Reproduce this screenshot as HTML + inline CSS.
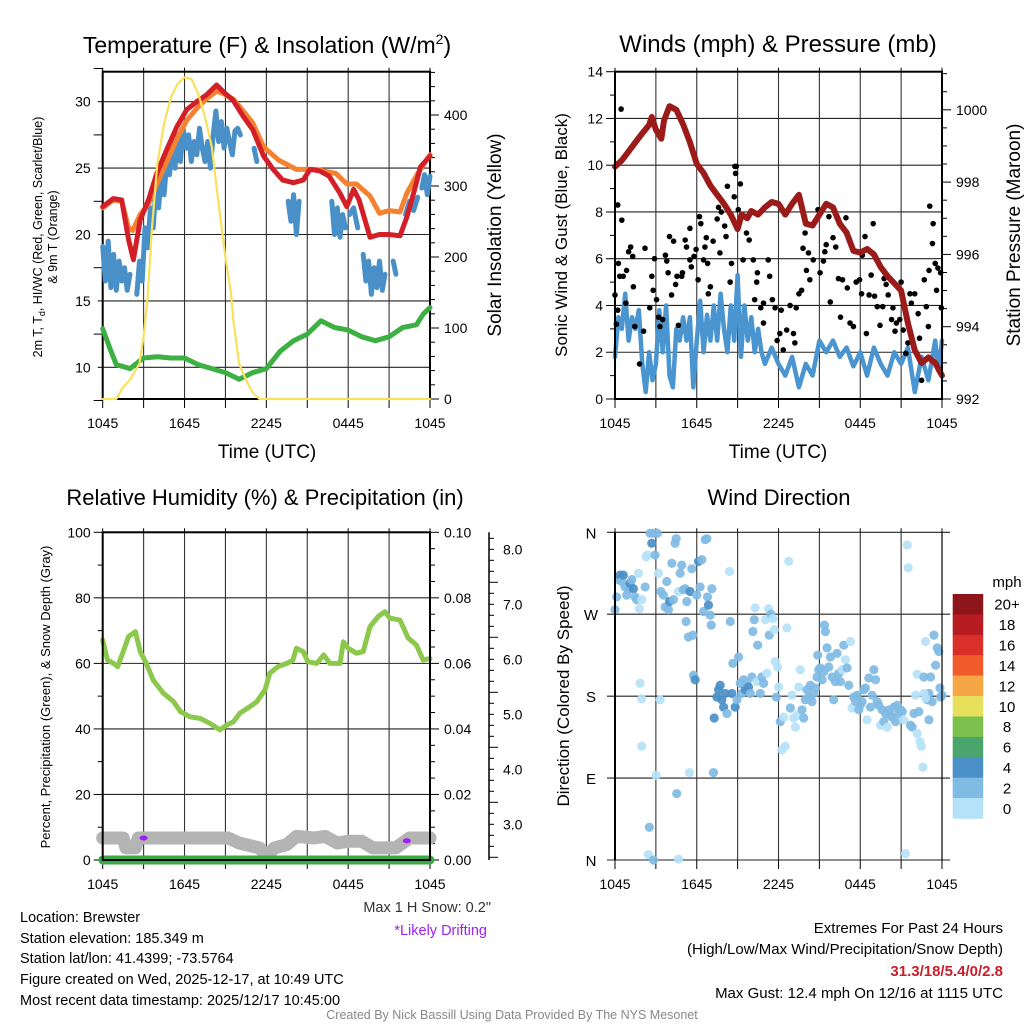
<!DOCTYPE html>
<html><head><meta charset="utf-8"><style>
html,body{margin:0;padding:0;background:#fff;}
svg{display:block;font-family:"Liberation Sans",Arial,sans-serif;}
</style></head><body>
<svg id="fig" width="1024" height="1024" viewBox="0 0 1024 1024" xmlns="http://www.w3.org/2000/svg">
<rect x="0" y="0" width="1024" height="1024" fill="#fff"/>
<text x="267" y="53" font-size="23" text-anchor="middle">Temperature (F) &amp; Insolation (W/m<tspan font-size="14" dy="-9">2</tspan><tspan dy="9">)</tspan></text>
<text x="778" y="52" font-size="24" text-anchor="middle">Winds (mph) &amp; Pressure (mb)</text>
<text x="265" y="505" font-size="22" text-anchor="middle">Relative Humidity (%) &amp; Precipitation (in)</text>
<text x="779" y="505" font-size="22" text-anchor="middle">Wind Direction</text>
<text x="267" y="458" font-size="19" text-anchor="middle">Time (UTC)</text>
<text x="778" y="458" font-size="19" text-anchor="middle">Time (UTC)</text>
<text transform="translate(42,237) rotate(-90)" font-size="12.5" text-anchor="middle">2m T, T<tspan font-size="9" dy="3">d</tspan><tspan dy="-3">, HI/WC (Red, Green, Scarlet/Blue)</tspan></text>
<text transform="translate(57,237) rotate(-90)" font-size="12.5" text-anchor="middle">&amp; 9m T (Orange)</text>
<text transform="translate(501,235) rotate(-90)" font-size="19" text-anchor="middle">Solar Insolation (Yellow)</text>
<text transform="translate(567,235) rotate(-90)" font-size="17" text-anchor="middle">Sonic Wind &amp; Gust (Blue, Black)</text>
<text transform="translate(1020,235) rotate(-90)" font-size="19" text-anchor="middle">Station Pressure (Maroon)</text>
<text transform="translate(50,697) rotate(-90)" font-size="13" text-anchor="middle">Percent, Precipitation (Green), &amp; Snow Depth (Gray)</text>
<text transform="translate(569,696) rotate(-90)" font-size="17" text-anchor="middle">Direction (Colored By Speed)</text>
<g font-size="14.5">
<text x="20" y="922">Location: Brewster</text>
<text x="20" y="943">Station elevation: 185.349 m</text>
<text x="20" y="963">Station lat/lon: 41.4399; -73.5764</text>
<text x="20" y="984">Figure created on Wed, 2025-12-17, at 10:49 UTC</text>
<text x="20" y="1005">Most recent data timestamp: 2025/12/17 10:45:00</text>
</g>
<text x="491" y="912" font-size="14.5" fill="#333" text-anchor="end">Max 1 H Snow: 0.2"</text>
<text x="487" y="935" font-size="14.5" fill="#a020f0" text-anchor="end">*Likely Drifting</text>
<g font-size="15" text-anchor="end">
<text x="1003" y="933">Extremes For Past 24 Hours</text>
<text x="1003" y="954">(High/Low/Max Wind/Precipitation/Snow Depth)</text>
<text x="1003" y="976" fill="#c8202a" font-weight="bold">31.3/18/5.4/0/2.8</text>
<text x="1003" y="998">Max Gust: 12.4 mph On 12/16 at 1115 UTC</text>
</g>
<text x="512" y="1019" font-size="12.5" fill="#888" text-anchor="middle">Created By Nick Bassill Using Data Provided By The NYS Mesonet</text>
<g id="layer"></g>
</svg>
<script>
// ---------- data ----------
const xTickLabels = ['1045','1645','2245','0445','1045'];
const tempTicks = [10,15,20,25,30];
const solarTicks = [0,100,200,300,400];
const speedTicks = [0,2,4,6,8,10,12,14];
const presTicks = [992,994,996,998,1000];
const rhTicks = [0,20,40,60,80,100];
const precipTicks = ['0.00','0.02','0.04','0.06','0.08','0.10'];
const snowTicks = ['3.0','4.0','5.0','6.0','7.0','8.0'];
const dirLabels = ['N','E','S','W','N'];
const cbarLabels = ['20+','18','16','14','12','10','8','6','4','2','0'];

const redTimes = [0,0.78,1.39,1.9,2.25,2.75,3.36,3.97,4.7,5.43,6.16,6.9,7.6,8.35,8.84,9.57,10.3,11.0,11.8,12.5,13.2,13.98,14.7,15.2,15.9,16.6,17.4,17.9,18.4,18.8,19.6,20.3,21.0,21.8,22.3,22.8,23.3,24];
const redVals = [22.1,22.7,22.6,19.6,18.1,21.1,22.6,24.6,26.4,28.1,29.4,30.0,30.5,31.26,30.75,30.1,28.9,27.9,25.9,24.9,24.1,23.9,24.1,24.9,24.8,24.4,23.1,22.1,23.4,22.6,19.8,20.0,20.0,19.9,21.3,23.1,25.1,25.9];
const orangeTimes = [0,0.78,1.39,1.9,2.2,2.75,3.36,3.97,4.7,5.43,6.16,6.9,7.6,8.35,8.84,9.57,10.3,11.0,11.8,12.9,14.2,15.7,17.1,17.9,18.6,19.6,20.3,21.0,21.8,22.3,23.1,24];
const orangeVals = [22.0,22.6,22.5,20.5,20.3,21.5,22.3,23.8,25.5,27.2,28.6,29.5,30.2,30.8,30.6,30.2,29.3,28.4,26.6,25.6,24.9,24.9,24.6,23.8,23.8,22.9,21.6,21.8,21.7,23.1,24.6,26.0];
const blueTimes = [0,0.2,0.4,0.6,0.8,1.0,1.2,1.4,1.6,1.8,2.0,2.2,2.5,2.7,2.9,3.1,3.3,3.5,3.7,3.9,4.1,4.3,4.5,4.7,4.9,5.1,5.3,5.5,5.7,5.9,6.1,6.3,6.5,6.7,6.9,7.1,7.3,7.5,7.7,7.9,8.1,8.3,8.5,8.7,8.9,9.1,9.3,9.5,9.7,9.9,10.1,10.6,11.1,11.3,12.0,13.6,13.8,14.0,14.2,14.4,15.0,15.8,16.3,16.8,17.0,17.2,17.4,17.6,17.8,17.95,18.1,18.4,18.7,18.9,19.1,19.3,19.5,19.7,19.9,20.1,20.3,20.5,20.7,21.0,21.3,21.5,21.9,22.2,22.5,22.8,23.1,23.25,23.4,23.6,23.8,24];
const blueVals = [19.1,16.5,19.5,16,18.5,15.8,18,16.5,17.5,15.8,17,null,15.5,18,16.5,20.5,19,22,20.5,23.5,22,24.5,23,25.5,24.5,26.5,25,27.5,25.5,28,26.5,27.5,25.5,27,26,28,26.5,25.5,27,25,27.5,29.3,27,28.5,26.5,28,27,26,27.8,28,27.5,null,26.5,25.5,null,22.5,21,23,20,22.5,null,22.9,null,22.5,20,22,19.8,21.5,20.5,null,21.5,22,20.5,null,18.5,16.5,18,15.5,17.5,16,18,15.8,17,null,18,17,null,21.5,22.5,21.8,22.8,null,23.5,24.5,23,24.4];
const greenTimes = [0,0.5,1,2,3,4,5,6,7,8,9,10,11,12,13,14,15,16,17,18,19,20,21,22,23,23.5,24];
const greenVals = [12.9,11.5,10.2,9.9,10.7,10.8,10.7,10.7,10.2,9.9,9.6,9.1,9.6,9.9,11.2,12.0,12.5,13.5,13.0,12.8,12.3,12.0,12.3,13.0,13.2,14.0,14.5];
const solarTimes = [0,1,1.5,2,2.7,3,3.3,3.6,4,4.5,5,5.5,6,6.5,7,7.5,8,8.5,9,9.4,9.6,10,10.5,11,11.5,24];
const solarVals = [0,0,17,27,50,88,144,238,331,388,425,444,453,451,430,397,355,275,200,150,108,50,27,9,0,0];

const presTimes = [0,0.5,1,1.5,2,2.5,2.7,3,3.4,3.6,4,4.5,5,5.5,6,6.5,7,7.5,8,8.5,9,9.3,9.7,10,10.5,11,11.5,12,12.5,13,13.5,14,14.5,15,15.5,16,16.5,17,17.5,18,18.5,19,19.5,20,20.5,21,21.5,22,22.5,23,23.5,24];
const presVals = [998.43,998.6,998.85,999.1,999.35,999.58,999.8,999.45,999.2,999.7,1000.1,1000.0,999.6,999.1,998.5,998.25,997.9,997.65,997.4,997.1,996.7,997.1,997.0,997.2,997.1,997.3,997.45,997.4,997.1,997.4,997.65,996.85,996.8,997.1,997.4,997.3,996.85,996.6,996.1,996.05,996.15,996.0,995.65,995.4,995.2,995.0,994.1,993.35,993.0,993.15,993.0,992.65];
const windTimes = [0,0.25,0.5,0.75,1,1.25,1.5,1.75,2,2.25,2.5,2.75,3,3.25,3.5,3.75,4,4.25,4.5,4.75,5,5.25,5.5,5.75,6,6.25,6.5,6.75,7,7.25,7.5,7.75,8,8.25,8.5,8.75,9,9.25,9.5,9.75,10,10.25,10.5,10.75,11,11.5,12,12.5,13,13.5,14,14.5,15,15.5,16,16.5,17,17.5,18,18.5,19,19.5,20,20.5,21,21.5,22,22.5,23,23.5,23.75,24];
const windVals = [1.8,3.5,3.0,4.5,2.5,3.5,3.0,3.8,1.5,0.3,2.0,0.8,1.5,3.8,2.0,4.0,1.0,0.5,3.0,2.5,3.5,2.5,3.5,0.5,2.5,4.2,2.0,3.6,2.5,4.0,2.5,4.5,3.0,2.0,4.0,2.5,5.3,1.8,4.0,2.5,3.5,2.0,3.0,2.0,1.5,2.2,1.5,1.0,1.8,0.5,1.5,1.0,2.5,2.0,2.5,1.8,2.2,1.4,2.0,1.0,2.2,1.5,1.0,2.0,1.5,2.2,0.3,1.8,0.8,2.5,1.2,2.5];
const gustTimes = [0,0.1,0.2,0.25,0.2,0.45,0.5,0.35,0.6,0.8,0.85,1.0,1.15,1.3,1.35,1.45,1.8,2.1,2.2,2.55,2.7,2.8,2.9,3.05,3.2,3.3,3.5,3.7,3.8,3.9,4.0,4.15,4.3,4.45,4.55,4.65,4.9,4.95,5.15,5.25,5.5,5.5,5.6,5.8,5.95,6.1,6.2,6.3,6.5,6.6,6.7,6.8,6.85,7.0,7.2,7.5,7.6,7.7,7.8,8.05,8.15,8.25,8.45,8.55,8.75,8.8,8.9,8.85,9.2,9.05,9.4,9.65,9.85,10.15,10.25,10.4,10.45,10.7,10.9,10.9,11.25,11.35,11.55,11.75,11.9,12.1,12.2,12.35,12.6,12.85,13.1,13.2,13.3,13.5,13.7,13.8,13.95,14.05,14.2,14.3,14.55,14.9,15.05,15.3,15.4,15.5,15.7,15.8,16.0,16.2,16.4,16.55,16.7,16.95,17.05,17.25,17.5,17.7,17.95,18.1,18.15,18.35,18.45,18.65,18.8,18.95,19.05,19.25,19.45,19.65,19.75,19.9,20.05,20.3,20.4,20.55,20.65,20.9,21.0,21.15,21.35,21.5,21.65,21.75,22.0,22.25,22.35,22.5,22.7,22.85,23.0,23.05,23.1,23.3,23.35,23.5,23.6,23.7,23.9,23.95];
const gustVals = [4.45,3.2,3.8,5.8,8.3,12.4,7.65,5.25,5.25,4.1,5.5,6.3,6.5,6.1,4.8,3.1,1.5,2.9,6.45,3.9,5.25,4.65,6.0,4.25,3.5,3.1,3.4,6.15,5.9,5.4,6.95,4.45,6.75,4.9,5.25,3.15,5.25,5.4,6.8,6.5,7.3,5.95,5.65,6.1,6.4,5.1,7.8,7.5,5.95,6.5,6.9,5.8,4.5,4.8,6.75,7.7,8.2,6.25,8.0,7.4,6.95,9.1,5.0,5.8,8.65,9.95,9.95,9.65,9.2,8.1,5.95,7.1,6.8,5.95,4.25,5.0,5.4,3.9,3.25,4.1,5.95,5.25,4.25,3.9,2.5,2.8,3.8,2.1,2.95,4.0,2.8,2.4,3.9,4.5,4.65,6.45,7.1,5.5,6.25,5.1,5.95,8.1,5.4,5.9,6.3,6.6,7.8,4.15,6.9,6.5,5.15,3.5,5.1,7.75,4.75,3.25,3.1,5.0,5.1,4.5,6.15,6.95,2.8,4.45,5.3,7.5,4.4,3.95,3.15,3.95,5.15,4.9,4.45,3.4,3.9,2.9,3.25,3.4,5.0,2.95,1.95,2.4,4.5,4.1,4.5,3.65,2.6,0.8,5.1,3.95,3.1,5.5,8.25,6.65,7.5,5.8,4.65,5.6,5.4,3.9];

const rhTimes = [0,0.35,0.8,1.1,1.5,1.9,2.4,2.75,3.2,3.7,4.45,5.2,5.7,6.4,7.15,7.85,8.6,9.1,9.6,10.05,10.8,11.3,11.9,12.25,12.85,13.5,13.95,14.2,14.7,15.05,15.7,16.2,16.65,17.4,17.65,18.0,18.6,19.1,19.6,20.2,20.7,21.05,21.8,22.4,23.0,23.5,24];
const rhVals = [67.1,61,60,59,63.6,68.2,69.7,63.6,60,54.9,50.9,48.3,45.3,43.7,43.2,41.7,39.7,41.2,42.2,44.8,46.8,48.3,51.9,57,59,60,61,64.6,63.6,60.5,60,62.6,60,60,66.6,64.6,63.1,63.6,71.2,74.3,75.8,73.8,73.2,67.7,65.6,61,61.5];
const snowTimes = [0,1.5,1.7,2.4,2.6,9.2,10,11,11.5,12,12.6,13.5,14.2,15.5,16.3,17.2,18,19,19.8,21.5,22.5,24];
const snowVals = [2.75,2.75,2.57,2.57,2.75,2.75,2.66,2.6,2.57,2.42,2.57,2.63,2.78,2.75,2.78,2.66,2.69,2.69,2.57,2.57,2.75,2.75];
const driftTimes = [3.0,22.3];
const driftVals = [2.75,2.7];
const precipTimes = [0,24];
const precipVals = [0,0];

const dirTimes = [0,0.12,0.25,0.37,0.49,0.61,0.74,0.86,0.98,1.10,1.23,1.35,1.47,1.59,1.72,1.79,1.96,2.21,2.28,2.38,2.57,2.70,2.82,2.94,3.11,3.19,3.36,3.55,3.68,3.80,3.92,4.00,4.17,4.29,4.41,4.49,4.66,4.78,4.90,5.02,5.15,5.22,5.27,5.39,5.51,5.64,5.71,5.76,5.88,6.00,6.13,6.25,6.37,6.50,6.62,6.74,6.79,6.86,6.99,7.11,7.06,7.28,7.23,7.48,7.60,7.72,7.84,7.97,8.09,8.21,8.41,8.46,8.58,8.65,8.82,8.95,9.07,9.19,9.31,9.44,9.56,9.68,9.80,9.93,10.05,10.12,10.22,10.29,10.42,10.47,10.66,10.78,10.91,11.03,11.15,11.27,11.32,11.45,11.59,11.69,11.76,11.84,11.94,12.01,12.13,12.25,12.38,12.50,12.62,12.75,12.87,12.99,13.11,13.24,13.36,13.48,13.60,13.73,13.85,13.97,14.09,14.22,14.34,14.46,14.58,14.71,14.83,14.88,14.95,15.07,15.20,15.32,15.37,15.44,15.56,15.69,15.81,15.93,16.05,16.18,16.30,16.42,16.54,16.67,16.79,16.91,17.03,17.16,17.28,17.40,17.52,17.65,17.77,17.89,18.01,18.14,18.26,18.38,18.50,18.63,18.75,18.87,19.00,19.12,19.24,19.36,19.49,19.61,19.73,19.85,19.98,20.10,20.22,20.34,20.47,20.59,20.71,20.83,20.96,21.08,21.20,21.32,21.45,21.52,21.69,21.81,21.94,22.06,22.18,22.30,22.38,22.48,22.60,22.18,22.67,22.79,22.92,23.04,23.04,23.16,23.28,23.41,23.53,23.65,23.77,23.85,23.90,24.0,1.84,1.96,3.31,1.96,3.01,4.53,2.52,2.45,2.82,4.66,5.47,22.67,22.79];
const dirVals = [275,289,308,313,306,313,300,291,297,304,308,298,289,286,315,276,286,300,333,335,359,348,359,335,359,315,295,291,278,306,275,284,326,286,348,353,295,315,324,297,298,262,284,245,295,320,247,203,198,291,328,300,330,273,352,353,289,280,269,298,258,156,96,179,187,192,176,168,183,161,317,262,183,216,168,176,223,194,183,198,187,194,190,183,201,251,264,277,196,236,183,201,194,264,205,276,247,270,265,253,218,179,212,190,152,121,157,125,255,328,167,181,156,146,159,190,209,165,156,176,187,179,192,174,183,189,201,225,209,211,198,207,258,251,233,212,223,201,176,196,227,205,196,209,236,220,211,192,240,167,179,174,181,165,170,174,187,189,154,200,168,181,209,198,174,170,148,165,152,161,146,165,159,157,168,152,170,161,165,163,154,7,346,321,148,146,161,181,139,163,130,125,102,204,201,240,176,154,183,201,174,247,214,233,229,189,179,181,194,177,176,125,93,73,36,6,0,1,96,183,178];
const dirSpeedBins = [1,1,1,2,1,2,1,1,1,2,1,2,1,1,0,0,0,1,0,0,1,2,1,1,1,0,1,1,1,1,1,2,1,1,1,1,0,1,1,1,1,1,1,1,2,1,1,1,2,1,2,1,1,1,1,1,1,2,1,1,1,2,1,2,2,2,2,2,2,1,0,1,2,1,2,1,1,1,1,1,2,1,2,1,1,1,1,0,0,1,1,1,1,0,0,0,1,1,0,0,0,1,0,0,1,0,0,0,0,0,1,0,0,0,0,0,0,1,1,1,1,1,1,1,1,1,1,1,1,1,1,1,1,1,1,1,1,1,1,1,1,1,1,0,1,0,1,1,0,0,1,1,1,1,1,1,1,1,0,1,1,1,1,1,1,1,0,1,1,1,0,1,1,1,1,1,1,1,1,1,0,0,0,0,1,1,1,0,0,1,0,0,0,0,1,0,1,1,1,1,1,1,1,1,1,1,1,1,0,0,0,0,0,1,1,0,1,0,0,0,0,1];
const speedColors = ['#b5e2f8','#80bbe4','#4a8fc7'];
const cbarColors = ['#8e1519','#b71c23','#d9302a','#ef5b2b','#f7a646','#e6e05a','#7cc14d','#4aa56c','#4a8fc7','#80bbe4','#b5e2f8'];

// ---------- helpers ----------
const NS = 'http://www.w3.org/2000/svg';
const layer = document.getElementById('layer');
function mk(tag, attrs, parent) {
  const e = document.createElementNS(NS, tag);
  for (const k in attrs) e.setAttribute(k, attrs[k]);
  (parent || layer).appendChild(e);
  return e;
}
function linScale(d0, d1, r0, r1) { return v => r0 + (v - d0) / (d1 - d0) * (r1 - r0); }
function pathFrom(times, vals, sx, sy) {
  let d = '', pen = false;
  for (let i = 0; i < times.length; i++) {
    if (vals[i] === null) { pen = false; continue; }
    d += (pen ? 'L' : 'M') + sx(times[i]).toFixed(1) + ' ' + sy(vals[i]).toFixed(1);
    pen = true;
  }
  return d;
}

const P1 = {x0:102.7, x1:430, y0:71.7, y1:399};
const P2 = {x0:615, x1:942, y0:71.7, y1:399};
const P3 = {x0:102.7, x1:430, y0:532.3, y1:860};
const P4 = {x0:615, x1:942, y0:532.3, y1:860};

function timeAxis(p, name, gridName, labelY) {
  const sx = linScale(0, 24, p.x0, p.x1);
  for (let h = 3; h < 24; h += 3) {
    const g = mk('line', {x1:sx(h), x2:sx(h), y1:p.y0, y2:p.y1, stroke:'#333', 'stroke-width':1.1});
    
    
  }
  for (let h = 0; h <= 24; h += 3) {
    const t = mk('line', {x1:sx(h), x2:sx(h), y1:p.y1, y2:p.y1 + 9, stroke:'#000', 'stroke-width':1});
    
    
    const tt = mk('line', {x1:sx(h), x2:sx(h), y1:p.y0 - 4, y2:p.y0, stroke:'#000', 'stroke-width':1});
    
    
  }
  xTickLabels.forEach((lab, i) => {
    const tx = mk('text', {x:sx(i * 6), y:labelY, 'font-size':14, 'text-anchor':'middle'});
    tx.textContent = lab;
    
    
  });
  return sx;
}
function hGrid(p, sy, vals, name) {
  vals.forEach(v => {
    const g = mk('line', {x1:p.x0, x2:p.x1, y1:sy(v), y2:sy(v), stroke:'#222', 'stroke-width':1.1});
    
    
  });
}
function yAxis(xPos, side, sy, lo, hi, majorStep, minorStep, labels, labelVals, name, labelOffset) {
  const dir = side === 'left' ? -1 : 1;
  const nMin = Math.round((hi - lo) / minorStep);
  for (let i = 0; i <= nMin; i++) {
    const v = lo + i * minorStep;
    const isMaj = Math.abs(((v - lo) / majorStep) - Math.round((v - lo) / majorStep)) < 1e-6;
    const t = mk('line', {x1:xPos, x2:xPos + dir * (isMaj ? 9 : 5), y1:sy(v), y2:sy(v), stroke:'#000', 'stroke-width':1});
    
    
  }
  labels.forEach((lab, i) => {
    const tx = mk('text', {x:xPos + dir * labelOffset, y:sy(labelVals[i]) + 5, 'font-size':14, 'text-anchor':side === 'left' ? 'end' : 'start'});
    tx.textContent = lab;
    
    
  });
}
function box(p, name) {
  const b = mk('rect', {x:p.x0, y:p.y0, width:p.x1 - p.x0, height:p.y1 - p.y0, fill:'none', stroke:'#000', 'stroke-width':2});
  
  
}
function line(times, vals, sx, sy, color, w, name, cap) {
  const l = mk('path', {d:pathFrom(times, vals, sx, sy), fill:'none', stroke:color, 'stroke-width':w, 'stroke-linejoin':'round', 'stroke-linecap':cap || 'round'});
  
  
}

// ---------- Panel 1: temperature ----------
{
  const sy = linScale(10, 30, 367.3, 101.7);
  const syR = linScale(0, 400, 399, 115);
  hGrid(P1, sy, tempTicks, 'temperature');
  const sx = timeAxis(P1, 'temperature', 'temperature', 428);
  yAxis(P1.x0, 'left', sy, 7.5, 32.5, 5, 2.5, tempTicks.map(String), tempTicks, 'temperature-y', 12);
  yAxis(P1.x1, 'right', syR, 0, 460, 100, 20, solarTicks.map(String), solarTicks, 'insolation-y', 14);
  box(P1, 'temperature');
  line(greenTimes, greenVals, sx, sy, '#3cb043', 5, 'heat-index-wind-chill-line');
  line(blueTimes, blueVals, sx, sy, '#4a90c8', 5, 'dewpoint-line');
  line(orangeTimes, orangeVals, sx, sy, '#f58231', 5, 'temperature-9m-line');
  line(redTimes, redVals, sx, sy, '#d21f28', 5, 'temperature-2m-line');
  line(solarTimes, solarVals, sx, syR, '#f9e15c', 2.2, 'solar-insolation-line');
}
// ---------- Panel 2: winds ----------
{
  const sy = linScale(0, 14, 399, 71.7);
  const syR = linScale(992, 1000, 399, 109.8);
  hGrid(P2, sy, speedTicks, 'winds');
  const sx = timeAxis(P2, 'winds', 'winds', 428);
  yAxis(P2.x0, 'left', sy, 0, 14, 2, 1, speedTicks.map(String), speedTicks, 'wind-speed-y', 12);
  yAxis(P2.x1, 'right', syR, 992, 1001, 2, 0.5, presTicks.map(String), presTicks, 'pressure-y', 14);
  line(windTimes, windVals, sx, sy, '#4a94d0', 4.5, 'sonic-wind-line');
  gustTimes.forEach((t, i) => {
    const c = mk('circle', {cx:sx(t), cy:sy(gustVals[i]), r:2.8, fill:'#000'});
    
    
  });
  line(presTimes, presVals, sx, syR, '#9b1b1b', 6, 'station-pressure-line');
  box(P2, 'winds');
}
// ---------- Panel 3: humidity ----------
{
  const sy = linScale(0, 100, 860, 532.3);
  const syP = linScale(0, 0.1, 860, 532.3);
  const sySnow = linScale(3, 8, 824.3, 549.3);
  hGrid(P3, sy, rhTicks, 'humidity');
  const sx = timeAxis(P3, 'humidity', 'humidity', 889);
  yAxis(P3.x0, 'left', sy, 0, 100, 20, 10, rhTicks.map(String), rhTicks, 'humidity-y', 12);
  yAxis(P3.x1, 'right', syP, 0, 0.1, 0.02, 0.005, precipTicks, precipTicks.map(Number), 'precip-y', 14);
  const ax = mk('line', {x1:489, x2:489, y1:532.3, y2:860, stroke:'#000', 'stroke-width':1.5});
  
  
  yAxis(489, 'right', sySnow, 2.4, 8.2, 1, 0.2, snowTicks, snowTicks.map(Number), 'snow-depth-y', 14);
  line(snowTimes, snowVals, sx, sySnow, '#b4b4b4', 13, 'snow-depth-line');
  line(precipTimes, precipVals, sx, syP, '#3aaa45', 9, 'precipitation-line');
  line(rhTimes, rhVals, sx, sy, '#8cc84b', 5, 'relative-humidity-line');
  driftTimes.forEach((t, i) => {
    const c = mk('ellipse', {cx:sx(t), cy:sySnow(driftVals[i]), rx:4, ry:2.5, fill:'#a020f0'});
    
    
  });
  box(P3, 'humidity');
}
// ---------- Panel 4: wind direction ----------
{
  const sy = linScale(0, 360, 860, 532.3);
  const dirVals4 = [0, 90, 180, 270, 360];
  dirVals4.forEach(v => {
    const g = mk('line', {x1:P4.x0 - 8, x2:P4.x1 + 8, y1:sy(v), y2:sy(v), stroke:'#222', 'stroke-width':1.1});
    
    
  });
  const sx = timeAxis(P4, 'direction', 'direction', 889);
  dirLabels.forEach((lab, i) => {
    const tx = mk('text', {x:591, y:sy(dirVals4[i]) + 6, 'font-size':15, 'text-anchor':'middle'});
    tx.textContent = lab;
    
    
  });
  dirTimes.forEach((t, i) => {
    const c = mk('circle', {cx:sx(t), cy:sy(dirVals[i]), r:4.6, fill:speedColors[dirSpeedBins[i]], 'fill-opacity':0.92});
    
    
  });
  const l = mk('line', {x1:P4.x0, x2:P4.x0, y1:P4.y0, y2:P4.y1, stroke:'#000', 'stroke-width':2});
  
  
  const r = mk('line', {x1:P4.x1, x2:P4.x1, y1:P4.y0, y2:P4.y1, stroke:'#000', 'stroke-width':1.2});
  
  
  const cb0 = 594, cb1 = 818.5, bh = (cb1 - cb0) / cbarColors.length;
  cbarColors.forEach((col, i) => {
    const rc = mk('rect', {x:952.7, y:cb0 + i * bh, width:30.5, height:bh + 0.3, fill:col});
    
    
    const tx = mk('text', {x:1007, y:cb0 + i * bh + bh / 2 + 5.5, 'font-size':15, 'text-anchor':'middle'});
    tx.textContent = cbarLabels[i];
    
    
  });
  const mp = mk('text', {x:1007, y:587, 'font-size':15, 'text-anchor':'middle'});
  mp.textContent = 'mph';
  
  
}
</script>
</body></html>
